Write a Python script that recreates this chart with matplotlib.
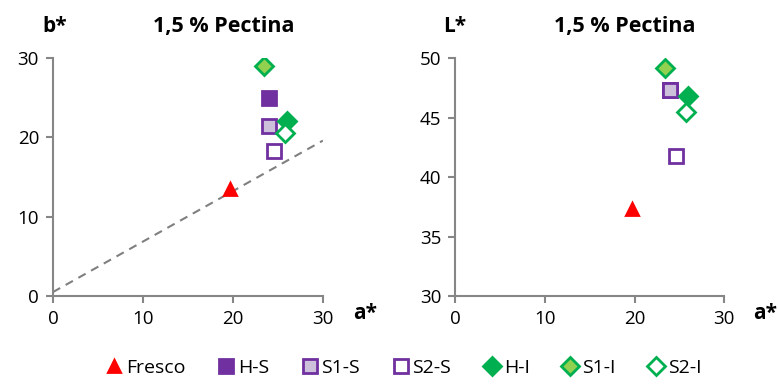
import matplotlib.pyplot as plt
from matplotlib.lines import Line2D

plt.rcParams['font.family'] = ['Open Sans', 'DejaVu Sans']

samples = ['Fresco', 'H-S', 'S1-S', 'S2-S', 'H-I', 'S1-I', 'S2-I']
a_val = [19.7, 24.0, 24.0, 24.6, 26.0, 23.5, 25.8]
b_val = [13.5, 25.0, 21.5, 18.3, 22.1, 29.0, 20.5]
a_val2 = [19.7, 23.9, 23.9, 24.6, 25.9, 23.4, 25.7]
L_val = [37.3, 47.3, 47.3, 41.8, 46.8, 49.2, 45.5]

# reference (dashed) line in the b*-a* plot
ref_a = [0, 30]
ref_b = [0.5, 19.6]

purple = '#7030A0'
green = '#00B050'
styles = {
    'Fresco': dict(marker='^', mfc='#FF0000', mec='#FF0000', ms=9),
    'H-S': dict(marker='s', mfc=purple, mec=purple, ms=10),
    'S1-S': dict(marker='s', mfc='#CCC0DA', mec=purple, ms=10),
    'S2-S': dict(marker='s', mfc='white', mec=purple, ms=10),
    'H-I': dict(marker='D', mfc=green, mec=green, ms=9),
    'S1-I': dict(marker='D', mfc='#92D050', mec=green, ms=9),
    'S2-I': dict(marker='D', mfc='white', mec=green, ms=9),
}

fig = plt.figure(figsize=(7.78, 3.85), dpi=100)
ax1 = fig.add_axes([0.068, 0.231, 0.347, 0.618])
ax2 = fig.add_axes([0.585, 0.231, 0.346, 0.618])

ax1.plot(ref_a, ref_b, ls=(0, (4, 3)), color='#808080', lw=1.5, zorder=1)
for i, s in enumerate(samples):
    ax1.plot(a_val[i], b_val[i], ls='none', mew=2, zorder=3, **styles[s])
    ax2.plot(a_val2[i], L_val[i], ls='none', mew=2, zorder=3, **styles[s])

ax1.set_xlim(0, 30)
ax1.set_ylim(0, 30)
ax1.set_xticks([0, 10, 20, 30])
ax1.set_yticks([0, 10, 20, 30])
ax2.set_xlim(0, 30)
ax2.set_ylim(30, 50)
ax2.set_xticks([0, 10, 20, 30])
ax2.set_yticks([30, 35, 40, 45, 50])

for ax in (ax1, ax2):
    for sp in ['top', 'right']:
        ax.spines[sp].set_visible(False)
    for sp in ['left', 'bottom']:
        ax.spines[sp].set_color('#868686')
        ax.spines[sp].set_linewidth(1.5)
    ax.tick_params(direction='out', length=5, width=1.5, color='#868686',
                   labelsize=13.5, pad=5)

fig.text(0.055, 0.93, 'b*', fontsize=15, fontweight='bold', ha='left', va='center')
fig.text(0.288, 0.93, '1,5 % Pectina', fontsize=15.5, fontweight='bold', ha='center', va='center')
fig.text(0.469, 0.187, 'a*', fontsize=15, fontweight='bold', ha='center', va='center')
fig.text(0.569, 0.93, 'L*', fontsize=15, fontweight='bold', ha='left', va='center')
fig.text(0.803, 0.93, '1,5 % Pectina', fontsize=15.5, fontweight='bold', ha='center', va='center')
fig.text(0.983, 0.187, 'a*', fontsize=15, fontweight='bold', ha='center', va='center')

handles = [Line2D([], [], ls='none', mew=2, **styles[s]) for s in samples]
fig.legend(handles, samples, loc='lower center', bbox_to_anchor=(0.518, -0.025),
           ncol=7, frameon=False, fontsize=14, handletextpad=0.1,
           columnspacing=1.6, handlelength=1.0)

fig.savefig('out.png', dpi=100)
